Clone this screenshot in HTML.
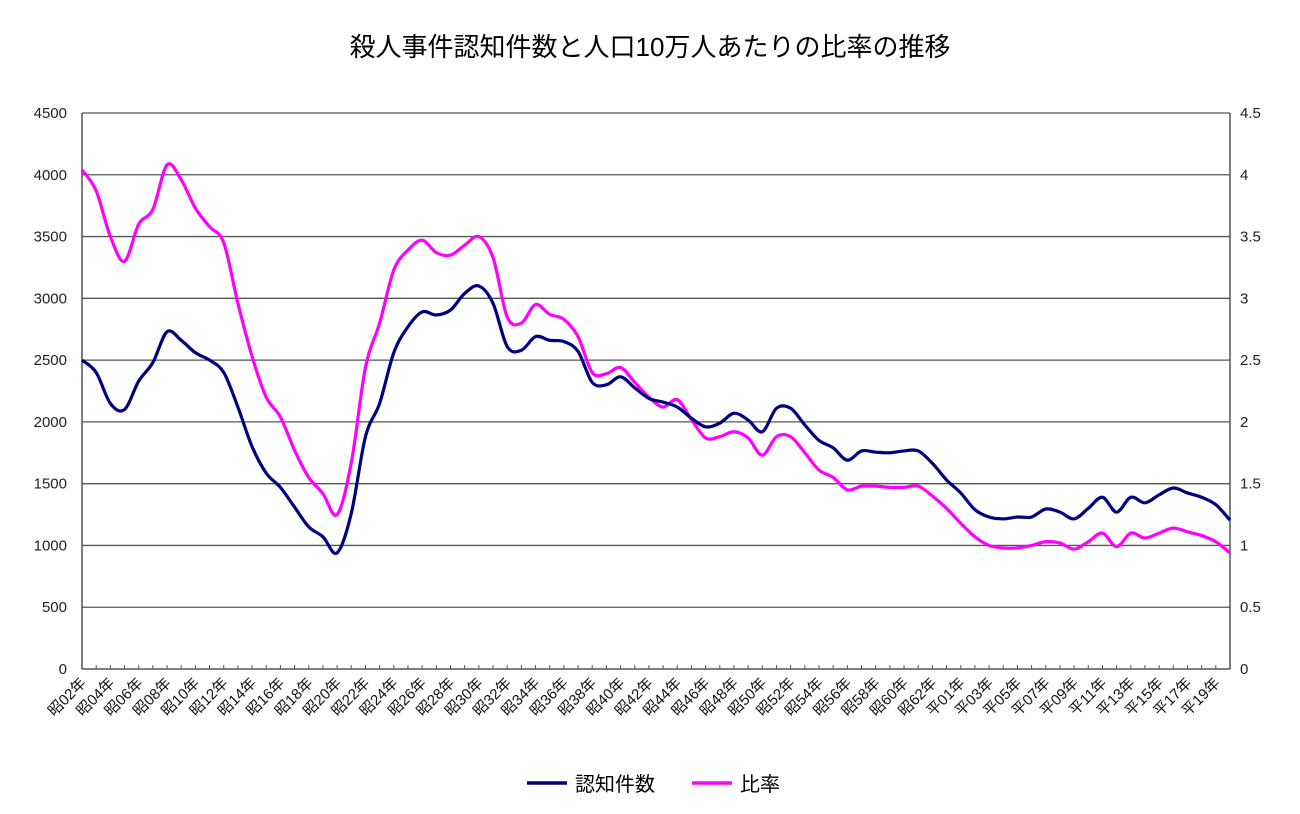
<!DOCTYPE html>
<html><head><meta charset="utf-8">
<style>
body{margin:0;background:#fff;}
svg text{font-family:"Liberation Sans","Noto Sans CJK JP",sans-serif;}
</style></head>
<body>
<svg id="chart" width="1300" height="809" viewBox="0 0 1300 809">
<text x="650" y="56" text-anchor="middle" font-size="26" fill="#000">殺人事件認知件数と人口10万人あたりの比率の推移</text>
<g id="grid"></g>
<g id="axes"></g>
<g id="series"></g>
<g>
<line x1="527" y1="783" x2="567" y2="783" stroke="#000080" stroke-width="3.5"/>
<text x="575" y="791" font-size="20">認知件数</text>
<line x1="692" y1="783" x2="732" y2="783" stroke="#ff00ff" stroke-width="3.5"/>
<text x="740" y="791" font-size="20">比率</text>
</g>
</svg>
<script>
const counts=[2500,2400,2150,2100,2330,2480,2730,2660,2560,2500,2400,2120,1800,1585,1470,1310,1150,1070,940,1260,1880,2150,2560,2770,2890,2865,2905,3040,3100,2960,2610,2580,2690,2660,2650,2570,2320,2300,2365,2275,2190,2160,2120,2030,1960,1990,2070,2015,1920,2110,2110,1975,1850,1790,1690,1765,1755,1750,1765,1765,1665,1530,1425,1290,1230,1215,1230,1230,1295,1270,1215,1300,1390,1270,1390,1345,1410,1465,1425,1390,1330,1205];
const ratios=[4.04,3.87,3.5,3.3,3.6,3.72,4.08,3.96,3.73,3.58,3.45,2.96,2.53,2.20,2.04,1.77,1.55,1.42,1.25,1.67,2.44,2.80,3.23,3.39,3.47,3.37,3.35,3.43,3.50,3.33,2.85,2.80,2.95,2.87,2.83,2.69,2.40,2.39,2.44,2.32,2.20,2.12,2.18,2.02,1.87,1.88,1.92,1.87,1.73,1.88,1.88,1.75,1.61,1.55,1.45,1.48,1.48,1.47,1.47,1.48,1.40,1.30,1.18,1.07,1.00,0.98,0.98,1.00,1.03,1.02,0.97,1.03,1.10,0.99,1.10,1.06,1.10,1.14,1.11,1.08,1.03,0.94];
const leftTicks=[0,500,1000,1500,2000,2500,3000,3500,4000,4500];
const rightTicks=["0","0.5","1","1.5","2","2.5","3","3.5","4","4.5"];
const categories=[];
for(let y=2;y<=63;y++)categories.push("昭"+String(y).padStart(2,"0")+"年");
for(let y=1;y<=20;y++)categories.push("平"+String(y).padStart(2,"0")+"年");

const NS="http://www.w3.org/2000/svg";
const X0=82,X1=1230,Y0=669,Y1=113;
const xs=i=>X0+i*(X1-X0)/(categories.length-1);
const yL=v=>Y0-(v/4500)*(Y0-Y1);
const yR=v=>Y0-(v/4.5)*(Y0-Y1);
function mk(tag,attrs,parent){const e=document.createElementNS(NS,tag);for(const k in attrs)e.setAttribute(k,attrs[k]);parent.appendChild(e);return e;}
const grid=document.getElementById('grid'),axes=document.getElementById('axes'),series=document.getElementById('series');
leftTicks.forEach((t,k)=>{
  const y=yL(t);
  if(t>0){const g=mk('line',{x1:X0,x2:X1,y1:y,y2:y,stroke:'#555','stroke-width':1.3},grid);
  
  }
  const tl=mk('text',{x:67,y:y+5,'text-anchor':'end','font-size':15,fill:'#222'},axes);tl.textContent=t;
  
  
  const tr=mk('text',{x:1240,y:y+5,'font-size':15,fill:'#222'},axes);tr.textContent=rightTicks[k];
  
  
});
const la=mk('line',{x1:X0,x2:X0,y1:Y1,y2:Y0,stroke:'#555','stroke-width':1.5},axes);


const ra=mk('line',{x1:X1,x2:X1,y1:Y1,y2:Y0,stroke:'#555','stroke-width':1.5},axes);


const xa=mk('line',{x1:X0,x2:X1,y1:Y0,y2:Y0,stroke:'#555','stroke-width':1.5},axes);


categories.forEach((c,i)=>{
  const x=xs(i);
  mk('line',{x1:x,x2:x,y1:Y0-4,y2:Y0,stroke:'#555','stroke-width':1},axes);
  if(i%2===0){
    const t=mk('text',{x:x+5,y:Y0+15,'text-anchor':'end','font-size':15,fill:'#111',transform:`rotate(-45 ${x+5} ${Y0+15})`},axes);
    t.textContent=c;
    
    
  }
});
function smooth(pts){
  let d=`M${pts[0][0]},${pts[0][1]}`;
  for(let i=0;i<pts.length-1;i++){
    const p0=pts[i-1]||pts[i],p1=pts[i],p2=pts[i+1],p3=pts[i+2]||p2;
    const c1=[p1[0]+(p2[0]-p0[0])/6,p1[1]+(p2[1]-p0[1])/6];
    const c2=[p2[0]-(p3[0]-p1[0])/6,p2[1]-(p3[1]-p1[1])/6];
    d+=`C${c1[0]},${c1[1]} ${c2[0]},${c2[1]} ${p2[0]},${p2[1]}`;
  }
  return d;
}
const pr=mk('path',{d:smooth(ratios.map((v,i)=>[xs(i),yR(v)])),fill:'none',stroke:'#ff00ff','stroke-width':3.2,'stroke-linejoin':'round'},series);


const pc=mk('path',{d:smooth(counts.map((v,i)=>[xs(i),yL(v)])),fill:'none',stroke:'#000080','stroke-width':3.2,'stroke-linejoin':'round'},series);


</script>
</body></html>
